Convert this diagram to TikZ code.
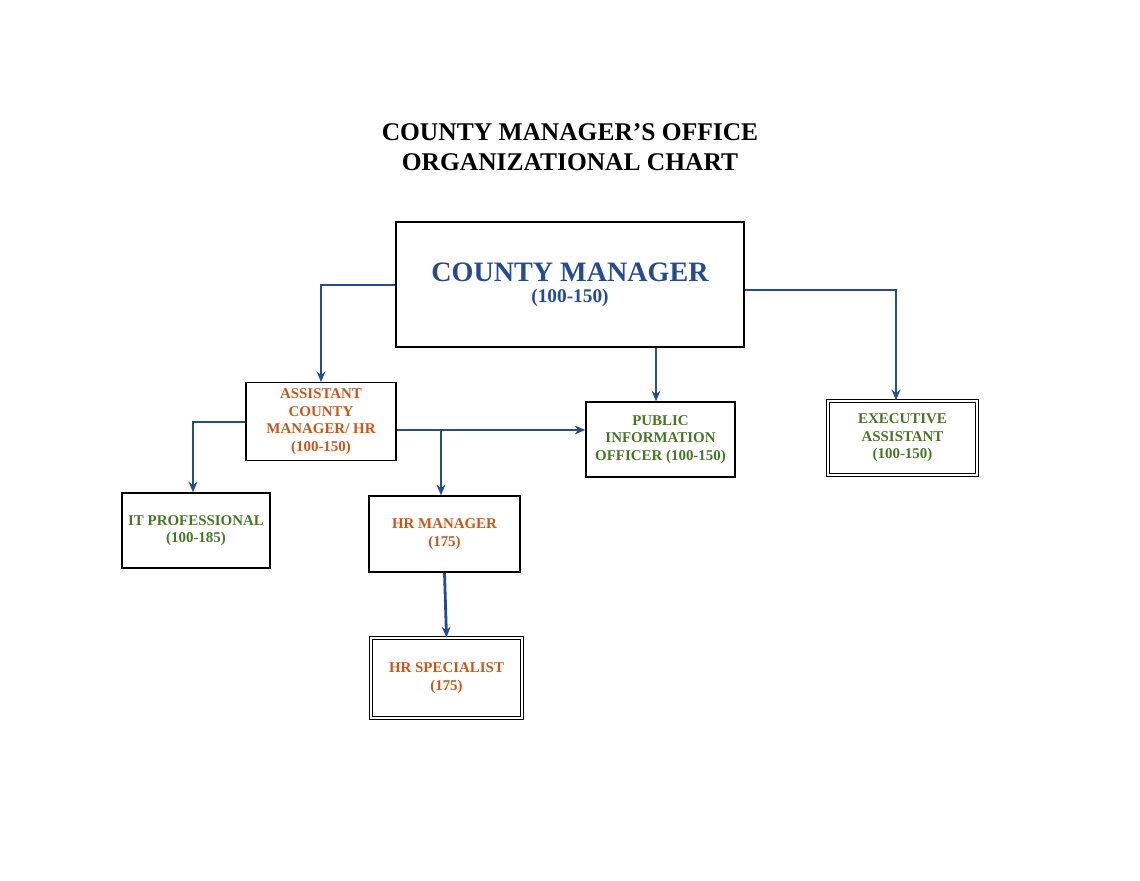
\documentclass[tikz,border=0pt]{standalone}
\usepackage{fontspec}
\setmainfont{Liberation Serif}
\usetikzlibrary{arrows.meta}
\definecolor{chartblue}{RGB}{35,75,150}
\definecolor{chartorange}{RGB}{205,85,20}
\definecolor{chartgreen}{RGB}{70,120,35}
\tikzset{
  box/.style={draw,thick,align=center,font=\bfseries\fontsize{8.5}{10}\selectfont},
  link/.style={chartblue,line width=1.6pt,-{Stealth[length=6pt,width=5pt]}}
}
\begin{document}
\begin{tikzpicture}[x=0.02cm,y=-0.02cm]
\useasboundingbox (0,0) rectangle (1140,881);
% title
\node[align=center,font=\bfseries\fontsize{14.5}{17}\selectfont] (title) at (570,147)
  {COUNTY MANAGER'S OFFICE\\ORGANIZATIONAL CHART};
% boxes
\node[box,minimum width=348*0.02cm,minimum height=125*0.02cm,text=chartblue] (cm) at (570,284.5)
  {{\fontsize{16}{19}\selectfont COUNTY MANAGER}\\[2pt]{\fontsize{11}{13}\selectfont (100-150)}};
\node[box,minimum width=150*0.02cm,minimum height=75*0.02cm,text=chartorange] (acm) at (321,421.5)
  {ASSISTANT\\COUNTY\\MANAGER/ HR\\(100-150)};
\node[box,minimum width=149*0.02cm,minimum height=75*0.02cm,text=chartgreen] (pio) at (660.5,439.5)
  {PUBLIC\\INFORMATION\\OFFICER (100-150)};
\node[box,double,minimum width=149*0.02cm,minimum height=74*0.02cm,text=chartgreen] (ea) at (902.5,438)
  {EXECUTIVE\\ASSISTANT\\(100-150)};
\node[box,minimum width=148*0.02cm,minimum height=75*0.02cm,text=chartgreen] (it) at (196,530.5)
  {IT PROFESSIONAL\\(100-185)};
\node[box,minimum width=151*0.02cm,minimum height=76*0.02cm,text=chartorange] (hrm) at (444.5,534)
  {HR MANAGER\\(175)};
\node[box,double,minimum width=151*0.02cm,minimum height=80*0.02cm,text=chartorange] (hrs) at (446.5,678)
  {HR SPECIALIST\\(175)};
% connectors
\draw[link] (cm.west|-0,285) -| (acm.north);
\draw[link] (656,0|-cm.south) -- (656,0|-pio.north);
\draw[link] (cm.east|-0,290) -| (896,0|-ea.north);
\draw[link] (acm.west|-0,422) -| (193,0|-it.north);
\draw[link] (acm.east|-0,430) -- (pio.west|-0,430);
\draw[link] (441,430) -- (441,0|-hrm.north);
\draw[link] (hrm.south) -- (hrs.north);
\end{tikzpicture}
\end{document}
